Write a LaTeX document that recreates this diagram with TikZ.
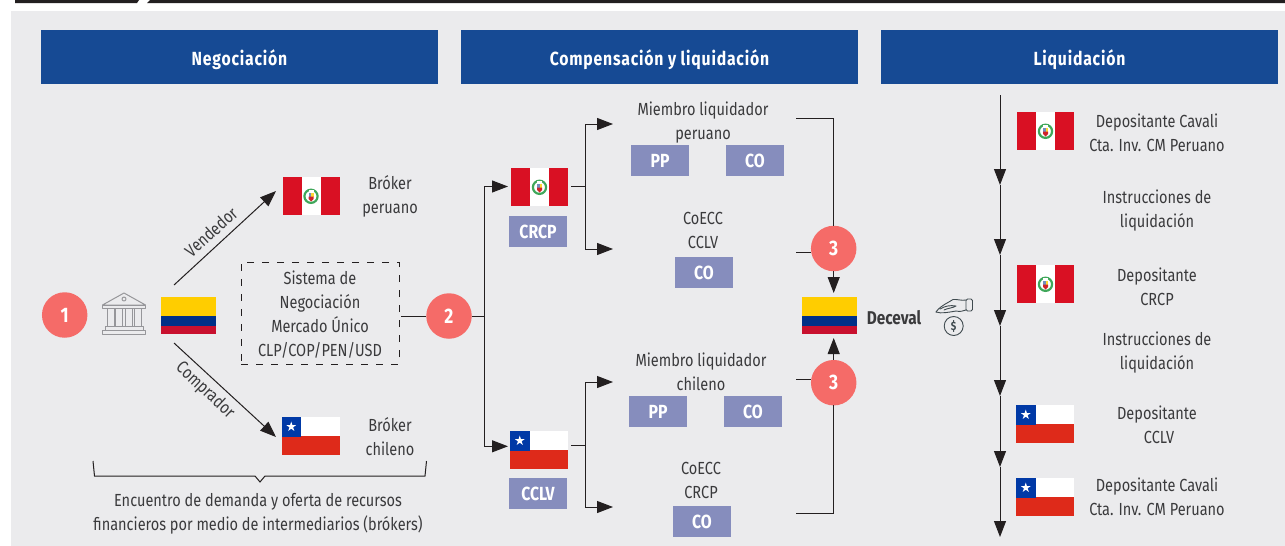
\documentclass[tikz,border=0pt]{standalone}
\usepackage{fontspec}
\setmainfont{Fira Sans}[FakeStretch=0.83]
\usetikzlibrary{arrows.meta,shapes.geometric}
\definecolor{bgc}{HTML}{EBEBED}
\definecolor{hdr}{HTML}{164A94}
\definecolor{lil}{HTML}{868DBD}
\definecolor{rosa}{HTML}{F56B68}
\definecolor{txt}{HTML}{3A3A3C}
\definecolor{blk}{HTML}{231F20}
\definecolor{peR}{HTML}{D91023}
\definecolor{chB}{HTML}{0039A6}
\definecolor{chR}{HTML}{DE2A1A}
\definecolor{coY}{HTML}{FFCD00}
\definecolor{coB}{HTML}{003087}
\definecolor{coR}{HTML}{C8102E}
\definecolor{icon}{HTML}{96969A}
\definecolor{hand}{HTML}{3F4A4F}
\definecolor{wreath}{HTML}{3FA75A}
\tikzset{
  x=1pt,y=-1pt,
  head/.style={fill=hdr,text=white,inner sep=0,outer sep=0,minimum height=54pt,text height=16pt,text depth=0pt,font=\fontsize{19}{20}\selectfont\bfseries\addfontfeature{LetterSpace=4.2}},
  lab/.style={text=txt,align=center,inner sep=0,font=\fontsize{17.5}{24}\selectfont},
  tag/.style={fill=lil,text=white,inner sep=0,outer sep=0,minimum width=58pt,minimum height=31pt,font=\fontsize{19}{20}\selectfont\bfseries},
  num/.style={circle,fill=rosa,text=white,inner sep=0,outer sep=0,minimum size=45.5pt,font=\fontsize{21}{20}\selectfont\bfseries},
  lin/.style={draw=blk,line width=1pt},
  arr/.style={lin,-{Triangle[length=16pt,width=12pt]}},
  flagnode/.style={inner sep=0,outer sep=0,rectangle},
}
\newcommand{\flagPE}[3]{\begin{scope}[shift={(#2,#3)}]
  \fill[white] (0,0) rectangle (57,38);
  \fill[peR] (0,0) rectangle (19,38);
  \fill[peR] (38,0) rectangle (57,38);
  \draw[wreath,line width=2.2pt] (28.5,19.3) circle (6.6pt);
  \fill[white] (26,13) rectangle (31,17);
  \fill[coB!55!white] (26,15.5) rectangle (28.5,19.5);
  \fill[coY!80!white] (28.5,15.5) rectangle (31,19.5);
  \fill[coR!90!coY] (26,19.5) -- (31,19.5) -- (31,22) -- (28.5,24.5) -- (26,22) -- cycle;
  \node[flagnode,minimum width=57pt,minimum height=38pt] (#1) at (28.5,19) {};
\end{scope}}
\newcommand{\flagCL}[3]{\begin{scope}[shift={(#2,#3)}]
  \fill[white] (0,0) rectangle (58,19);
  \fill[chR] (0,19) rectangle (58,38);
  \fill[chB] (0,0) rectangle (19.5,19.5);
  \fill[white] (9.75,4.5) -- (10.9,8.1) -- (14.7,8.1) -- (11.6,10.3) -- (12.8,13.9) -- (9.75,11.7) -- (6.7,13.9) -- (7.9,10.3) -- (4.8,8.1) -- (8.6,8.1) -- cycle;
  \node[flagnode,minimum width=58pt,minimum height=38pt] (#1) at (29,19) {};
\end{scope}}
\newcommand{\flagCO}[3]{\begin{scope}[shift={(#2,#3)}]
  \fill[coY] (0,0) rectangle (55,19.3);
  \fill[coB] (0,19.3) rectangle (55,28.7);
  \fill[coR] (0,28.7) rectangle (55,37);
  \node[flagnode,minimum width=55pt,minimum height=37pt] (#1) at (27.5,18.5) {};
\end{scope}}
\begin{document}
\begin{tikzpicture}
\useasboundingbox (0,0) rectangle (1285,546);
\fill[white] (0,0) rectangle (1285,546);
\fill[bgc] (11,11) rectangle (1285,546);
\fill[blk] (15,0) -- (139,0) -- (137,3) -- (15,3) -- cycle;
\fill[blk] (150,0) -- (1285,0) -- (1285,3) -- (147,3) -- cycle;

% headers
\node[head,minimum width=397pt] (h1) at (239.5,57) {Negociación};
\node[head,minimum width=397pt] (h2) at (659.5,57) {Compensación y liquidación};
\node[head,minimum width=397pt] (h3) at (1079.5,57) {Liquidación};

% negociacion
\node[num] (c1) at (64.7,315) {1};
\begin{scope}[draw=icon,line width=1pt,line join=round]
  \draw (102.5,305) -- (124,293) -- (145.5,305) -- cycle;
  \draw (124,299) circle (2pt);
  \draw (102.5,305) rectangle (145.5,308);
  \foreach \xa in {107,115.5,125,134}{\draw (\xa,308) rectangle (\xa+7,326);}
  \draw (105,326) rectangle (143,330);
  \draw (102.5,330) rectangle (145.5,334);
\end{scope}
\flagCO{coneg}{161}{297}
\flagPE{pebrk}{282.5}{177}
\flagCL{clbrk}{281.5}{417}
\node[lab] (tpe) at (390,196.5) {Bróker\\peruano};
\node[lab] (tcl) at (390,436.5) {Bróker\\chileno};
\coordinate (va) at (174,285);
\coordinate (vb) at (276,191);
\coordinate (ca) at (174,343);
\coordinate (cb) at (276,437);
\draw[arr] (va) -- (vb);
\draw[arr] (ca) -- (cb);
\node[lab,rotate=42] (tv) at (211,232) {Vendedor};
\node[lab,rotate=-43] (tc) at (205,390.5) {Comprador};
\node[draw=blk,dashed,dash pattern=on 7pt off 8pt,line width=.8pt,inner sep=0,minimum width=158pt,minimum height=102pt] (sis) at (320,313) {};
\node[lab] (sist) at (320,315) {Sistema de\\Negociación\\Mercado Único\\CLP/COP/PEN/USD};
\draw[lin] (93,461) -- (94.5,476) -- (255,476) -- (260,482) -- (265,476) -- (425,476) -- (426.5,461);
\node[lab] (tenc) at (258,514) {Encuentro de demanda y oferta de recursos\\financieros por medio de intermediarios (brókers)};

% compensacion
\node[num] (c2) at (449,316) {2};
\draw[lin] ([xshift=2pt]sis.east |- c2) -- (c2);
\coordinate (jn) at (484.3,316);
\flagPE{pecc}{511}{168}
\flagCL{clcc}{510}{431}
\coordinate (pei) at (505,186.5);
\coordinate (cli) at (505,446.3);
\draw[lin] (c2) -- (jn);
\draw[arr] (jn) |- ([xshift=3pt]pei);
\draw[arr] (jn) |- ([xshift=3pt]cli);
\node[tag] (crcp) at (538,231.5) {CRCP};
\node[tag] (cclv) at (538,493.5) {CCLV};

\node[lab] (m1) at (703,123) {Miembro liquidador\\peruano};
\node[tag] (pp1) at (660,160.5) {PP};
\node[tag] (co1) at (755,160.5) {CO};
\node[lab] (e1) at (703,230) {CoECC\\CCLV};
\node[tag] (co2) at (704,272.5) {CO};
\node[lab] (m2) at (701,371.5) {Miembro liquidador\\chileno};
\node[tag] (pp2) at (658,411.5) {PP};
\node[tag] (co3) at (753,411.5) {CO};
\node[lab] (e2) at (701,480) {CoECC\\CRCP};
\node[tag] (co4) at (702,521.5) {CO};

\coordinate (s1) at (571,186);
\coordinate (j1) at (585.3,186);
\coordinate (a1) at (613,124);
\coordinate (a2) at (613,249);
\draw[lin] (s1) -- (j1);
\draw[arr] (j1) |- (a1);
\draw[arr] (j1) |- (a2);
\coordinate (s2) at (571,445);
\coordinate (j2) at (585.3,445);
\coordinate (a3) at (613,382);
\coordinate (a4) at (613,507);
\draw[lin] (s2) -- (j2);
\draw[arr] (j2) |- (a3);
\draw[arr] (j2) |- (a4);

% Deceval
\flagCO{codec}{802}{297}
\node[num] (c3a) at (833.7,248.5) {3};
\node[num] (c3b) at (833.7,382.7) {3};
\coordinate (r1) at (796,118);
\coordinate (r2) at (796,252);
\coordinate (r3) at (796,379);
\coordinate (r4) at (796,513);
\coordinate (tipa) at (833.7,293);
\coordinate (tipb) at (833.7,338);
\draw[lin] (r2) -- (c3a.west |- r2);
\draw[lin] (r3) -- (c3b.west |- r3);
\draw[lin] (r1) -| (c3a.north);
\draw[lin] (r4) -| (c3b.south);
\draw[arr] (c3a.south) -- (tipa);
\draw[arr] (c3b.north) -- (tipb);
\node[lab,font=\fontsize{18.5}{24}\selectfont\bfseries] (dec) at (894,318) {Deceval};
% hand and coin
\begin{scope}[draw=hand,line width=.9pt,line join=round,line cap=round]
  \draw (936,312) .. controls (941,305) and (948,303) .. (953,299.5) .. controls (957,299) and (962,301) .. (966,300);
  \draw (936,312) .. controls (941,314) and (950,312) .. (956,311) .. controls (960,312) and (963,311) .. (966,310);
  \draw (940,309) .. controls (945,306) and (950,305) .. (956,306) .. controls (953,308) and (948,308) .. (944,310);
  \draw[rounded corners=1.5pt] (966,299) rectangle (972.5,311);
  \draw (953.7,326) circle (9.5pt);
  \node[text=hand,inner sep=0,font=\fontsize{12}{12}\selectfont\bfseries] (dol) at (953.7,326) {\$};
\end{scope}

% liquidacion
\coordinate (l0) at (1000,95);
\coordinate (l1) at (1000,185);
\coordinate (l2) at (1000,255);
\coordinate (l3) at (1000,326);
\coordinate (l4) at (1000,396);
\coordinate (l5) at (1000,467);
\coordinate (l6) at (1000,537);
\foreach \p/\q in {l0/l1,l1/l2,l2/l3,l3/l4,l4/l5,l5/l6}{\draw[arr] (\p) -- (\q);}
\flagPE{pe1}{1017}{112}
\flagPE{pe2}{1017}{265}
\flagCL{cl1}{1016}{405}
\flagCL{cl2}{1016}{478}
\node[lab] (d1) at (1157,133) {Depositante Cavali\\Cta. Inv. CM Peruano};
\node[lab] (d2) at (1157,211) {Instrucciones de\\liquidación};
\node[lab] (d3) at (1157,287) {Depositante\\CRCP};
\node[lab] (d4) at (1157,353) {Instrucciones de\\liquidación};
\node[lab] (d5) at (1157,425) {Depositante\\\hspace*{4pt}CCLV};
\node[lab] (d6) at (1157,497) {Depositante Cavali\\Cta. Inv. CM Peruano};
\end{tikzpicture}
\end{document}
